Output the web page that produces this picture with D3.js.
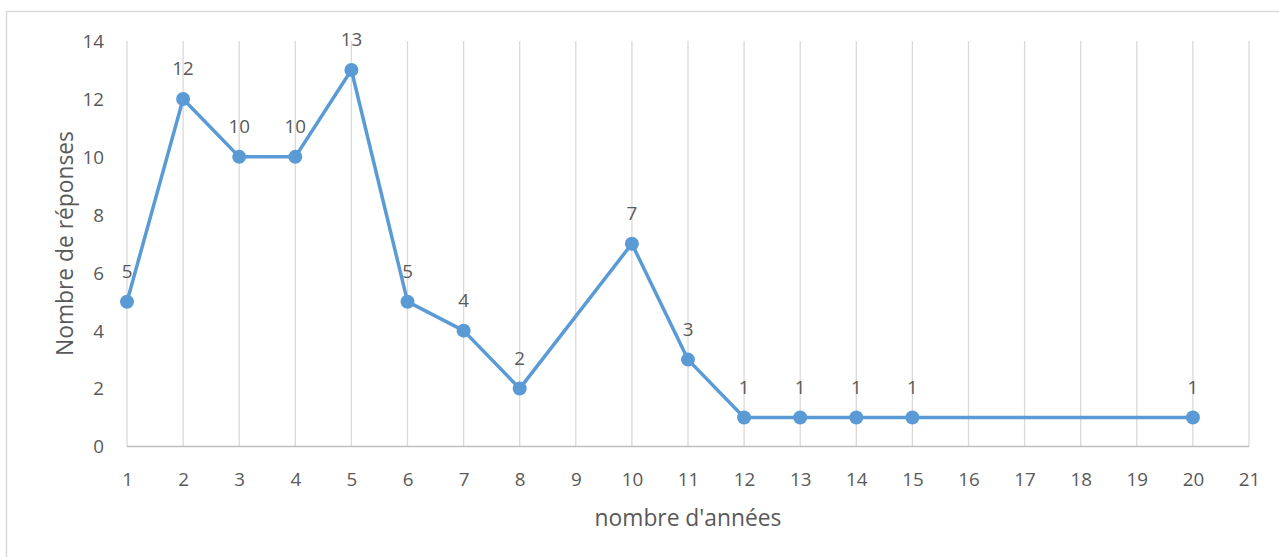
<!DOCTYPE html>
<html>
<head>
<meta charset="utf-8">
<script src="https://cdn.jsdelivr.net/npm/d3@7"></script>
<style>
  body { margin: 0; background: #fff; }
  svg { display: block; }
  text { font-family: "Open Sans", Lato, sans-serif; fill: #595959; }
</style>
</head>
<body>
<svg id="chart" width="1279" height="557"></svg>
<script>
// Category axis (years) and the responses recorded for each year
const categories = ["1","2","3","4","5","6","7","8","9","10","11","12","13","14","15","16","17","18","19","20","21"];
const years      = ["1","2","3","4","5","6","7","8","10","11","12","13","14","15","20"];
const responses  = [5, 12, 10, 10, 13, 5, 4, 2, 7, 3, 1, 1, 1, 1, 1];
const yTicks     = [0, 2, 4, 6, 8, 10, 12, 14];

const data = years.map((y, i) => ({ year: y, value: responses[i] }));

const svg = d3.select("#chart");
const W = 1279, H = 557;
const plot = { left: 127, right: 1249, top: 41, bottom: 446.5 };
const FONT = "'Open Sans', Lato, sans-serif";
const TICK_SIZE = 18.8;
const TITLE_SIZE = 22.8;

// Chart area frame
svg.append("rect")
  .attr("x", 6.5).attr("y", 11.5)
  .attr("width", W + 10).attr("height", H + 10)
  .attr("fill", "#fff").attr("stroke", "#d9d9d9").attr("stroke-width", 1.5);

const x = d3.scalePoint().domain(categories).range([plot.left, plot.right]);
const y = d3.scaleLinear().domain([0, 14]).range([plot.bottom, plot.top]);

// Vertical gridlines at each category
svg.append("g").selectAll("line")
  .data(categories)
  .join("line")
  .attr("x1", d => x(d)).attr("x2", d => x(d))
  .attr("y1", plot.top).attr("y2", plot.bottom)
  .attr("stroke", "#d9d9d9").attr("stroke-width", 1.3);

// Horizontal baseline
svg.append("line")
  .attr("x1", plot.left).attr("x2", plot.right)
  .attr("y1", plot.bottom).attr("y2", plot.bottom)
  .attr("stroke", "#bfbfbf").attr("stroke-width", 1.3);

// Y axis labels
const yAxis = d3.axisLeft(y).tickValues(yTicks).tickSize(0).tickPadding(0);
const gy = svg.append("g").attr("transform", `translate(${plot.left - 23},0)`).call(yAxis);
gy.select(".domain").remove();
gy.selectAll("text")
  .attr("font-size", TICK_SIZE).attr("font-family", FONT)
  .attr("dy", "0.34em").style("fill", "#595959");

// X axis labels
const xAxis = d3.axisBottom(x).tickSize(0).tickPadding(0);
const gx = svg.append("g").attr("transform", `translate(0,${plot.bottom})`).call(xAxis);
gx.select(".domain").remove();
gx.selectAll("text")
  .attr("font-size", TICK_SIZE).attr("font-family", FONT)
  .attr("y", 39.5).attr("dy", 0).style("fill", "#595959");

// Axis titles
svg.append("text")
  .attr("x", 688).attr("y", 526)
  .attr("text-anchor", "middle").attr("font-size", TITLE_SIZE)
  .text("nombre d'années");

svg.append("text")
  .attr("transform", `translate(73,243.5) rotate(-90)`)
  .attr("text-anchor", "middle").attr("font-size", TITLE_SIZE)
  .text("Nombre de réponses");

// Series line
const line = d3.line().x(d => x(d.year)).y(d => y(d.value));
svg.append("path")
  .datum(data)
  .attr("d", line)
  .attr("fill", "none")
  .attr("stroke", "#5b9bd5")
  .attr("stroke-width", 3.5)
  .attr("stroke-linejoin", "round");

// Markers
svg.append("g").selectAll("circle")
  .data(data)
  .join("circle")
  .attr("cx", d => x(d.year)).attr("cy", d => y(d.value))
  .attr("r", 7)
  .attr("fill", "#5b9bd5");

// Data labels
svg.append("g").selectAll("text")
  .data(data)
  .join("text")
  .attr("x", d => x(d.year)).attr("y", d => y(d.value) - 24)
  .attr("text-anchor", "middle").attr("font-size", TICK_SIZE)
  .text(d => d.value);
</script>
</body>
</html>
